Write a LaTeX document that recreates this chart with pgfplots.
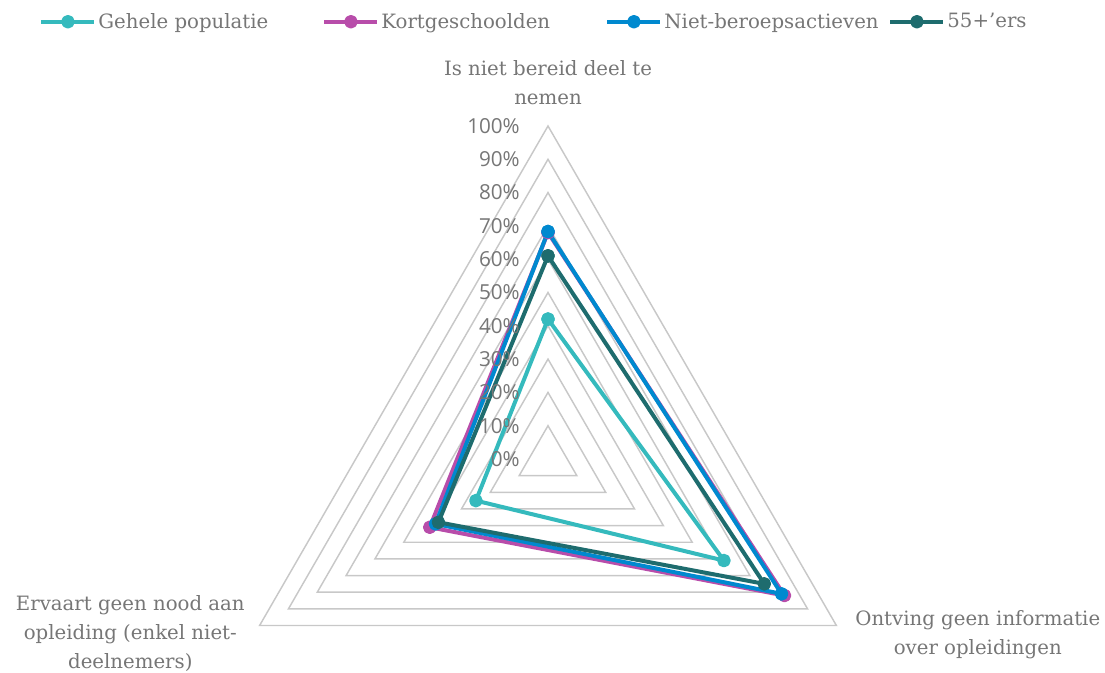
\documentclass[border=0pt]{standalone}
\usepackage{pgfplots}
\pgfplotsset{compat=1.18}
\usepgfplotslibrary{polar}
\usepackage{fontspec}
\setmainfont{DejaVu Serif}
\newfontfamily\pctfont{Open Sans}
\definecolor{cgeh}{RGB}{53,186,189}
\definecolor{ckort}{RGB}{184,77,170}
\definecolor{cniet}{RGB}{0,137,207}
\definecolor{cfif}{RGB}{30,108,110}
\definecolor{tgray}{RGB}{118,118,118}
\definecolor{ggray}{RGB}{200,200,200}
\begin{document}
\begin{tikzpicture}
\path[use as bounding box] (0pt,0pt) rectangle (828.75pt,504.75pt);
\begin{polaraxis}[
  at={(411pt,160.5pt)}, anchor=center,
  width=499.5pt, height=499.5pt, scale only axis,
  ymin=0, ymax=100,
  hide axis, clip=false,
  every axis plot/.append style={line width=3pt, line join=round, mark=*, mark size=3.6pt, mark options={solid}},
  legend columns=4,
  legend style={at={(axis description cs:-0.264,1.1727)}, anchor=north west, draw=none, fill=none,
    font=\fontsize{14.8}{17}\selectfont, text=tgray, inner sep=0pt,
    nodes={inner sep=1.5pt},
    /tikz/every even column/.append style={column sep=0pt}},
  legend cell align=left,
  legend image code/.code={\draw[mark repeat=2,mark phase=2,#1] plot coordinates {(0pt,0pt)(19.875pt,0pt)(39.75pt,0pt)};},
]
% grid triangles
\pgfplotsinvokeforeach{10,20,30,40,50,60,70,80,90,100}{
  \addplot[ggray, line width=1.1pt, line join=miter, mark=none, forget plot] coordinates {(90,#1) (330,#1) (210,#1) (90,#1) (330,#1)};
}
\addplot[cgeh, mark options={fill=cgeh}] coordinates {(90,42) (330,61) (210,25) (90,42)};
\addlegendentry{\makebox[166.5pt][l]{Gehele populatie}}
\addplot[ckort, mark options={fill=ckort}] coordinates {(90,68) (330,82) (210,41) (90,68)};
\addlegendentry{\makebox[166.5pt][l]{Kortgeschoolden}}
\addplot[cniet, mark options={fill=cniet}] coordinates {(90,68.3) (330,81) (210,39) (90,68.3)};
\addlegendentry{\makebox[166.5pt][l]{Niet-beroepsactieven}}
\addplot[cfif, mark options={fill=cfif}] coordinates {(90,61) (330,75) (210,38) (90,61)};
\addlegendentry{\makebox[166.5pt][l]{55+’ers}}
% percentage labels
\pgfplotsinvokeforeach{0,10,20,30,40,50,60,70,80,90,100}{
  \node[anchor=east, inner sep=0pt, text=tgray, font=\pctfont\fontsize{15.5}{17}\selectfont, xshift=-21pt] at (axis cs:90,#1) {#1\%};
}
% category labels
\node[anchor=south, align=center, inner sep=0pt, text=tgray, font=\fontsize{14.8}{21.75}\selectfont, yshift=16pt] at (axis cs:90,100) {Is niet bereid deel te\\nemen};
\node[anchor=east, align=center, inner sep=0pt, text=tgray, font=\fontsize{14.8}{21.75}\selectfont, xshift=-11pt, yshift=-6pt] at (axis cs:210,100) {Ervaart geen nood aan\\opleiding (enkel niet-\\deelnemers)};
\node[anchor=west, align=center, inner sep=0pt, text=tgray, font=\fontsize{14.8}{21.75}\selectfont, xshift=14pt, yshift=-7pt] at (axis cs:330,100) {Ontving geen informatie\\over opleidingen};
\end{polaraxis}
\end{tikzpicture}
\end{document}
